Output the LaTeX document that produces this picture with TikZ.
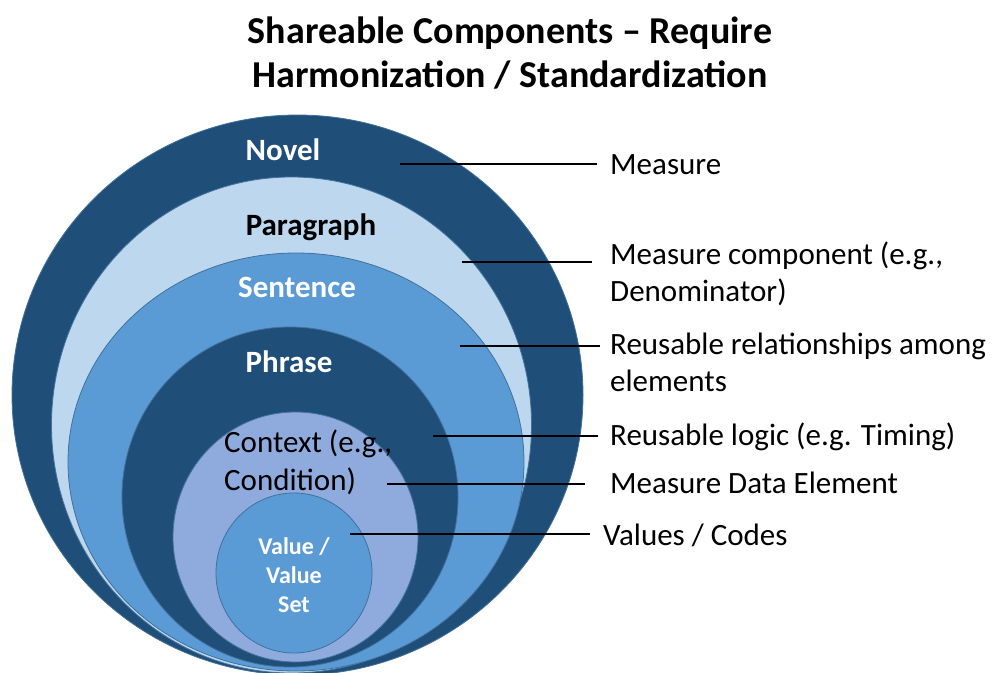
\documentclass[tikz,border=0pt]{standalone}
\usepackage{fontspec}
\setmainfont{Carlito}
\definecolor{darkband}{HTML}{1F4E79}
\definecolor{paleband}{HTML}{BDD7EE}
\definecolor{midband}{HTML}{5B9BD5}
\definecolor{lilacband}{HTML}{8FAADC}
\definecolor{rimline}{HTML}{41719C}
\tikzset{
    ring/.style={draw=rimline, line width=0.8pt},
    ringlabel/.style={font=\fontsize{31}{36}\selectfont\bfseries, text=white},
    sidelabel/.style={font=\fontsize{31}{37}\selectfont, align=left,
        anchor=west, inner sep=0pt},
    leader/.style={line width=2.8pt}
}
\begin{document}
\begin{tikzpicture}[x=1pt, y=-1pt]
    \useasboundingbox (0, 0) rectangle (995, 672);
    % title
    \node [font=\fontsize{38}{44}\selectfont\bfseries, align=center] (title)
        at (510, 53) {Shareable Components -- Require\\Harmonization / Standardization};
    % nested rings, outside in
    \filldraw [ring, fill=darkband] (297.5, 395) ellipse [x radius=285.5, y radius=280];
    \filldraw [ring, fill=paleband] (291.5, 425) ellipse [x radius=240, y radius=248];
    \filldraw [ring, fill=midband] (296, 462) ellipse [x radius=228, y radius=209];
    \filldraw [ring, fill=darkband] (290, 497) ellipse [x radius=168, y radius=170];
    \filldraw [ring, fill=lilacband] (295.5, 537) ellipse [x radius=122.5, y radius=125];
    \filldraw [ring, fill=midband] (294, 573) ellipse [x radius=78, y radius=80];
    % ring names
    \node [ringlabel] (novel) at (283, 150) {Novel};
    \node [ringlabel, text=black] (paragraph) at (311, 227) {Paragraph};
    \node [ringlabel] (sentence) at (297, 287) {Sentence};
    \node [ringlabel] (phrase) at (289, 362) {Phrase};
    \node [sidelabel, font=\fontsize{31}{38}\selectfont] (context) at (224, 462)
        {Context (e.g.,\\Condition)};
    \node [ringlabel, font=\fontsize{24}{29}\selectfont\bfseries, align=center]
        (valueset) at (294, 575) {Value /\\Value\\Set};
    % meanings on the right
    \node [sidelabel] (measure) at (610, 165) {Measure};
    \node [sidelabel] (component) at (610, 274) {Measure component (e.g.,\\Denominator)};
    \node [sidelabel] (relations) at (610, 362) {Reusable relationships among\\elements};
    \node [sidelabel] (logic) at (610, 437) {Reusable logic (e.g. Timing)};
    \node [sidelabel] (dataelem) at (610, 483) {Measure Data Element};
    \node [sidelabel] (codes) at (603, 535) {Values / Codes};
    % leader lines
    \coordinate (inNovel) at (400, 164);
    \coordinate (inParagraph) at (462, 262);
    \coordinate (inSentence) at (460, 346);
    \coordinate (inPhrase) at (433, 436);
    \coordinate (inContext) at (387, 484);
    \coordinate (inValue) at (350, 534);
    \draw [leader] (inNovel) -- ([xshift=-13pt]inNovel -| measure.west);
    \draw [leader] (inParagraph) -- ([xshift=-18pt]inParagraph -| component.west);
    \draw [leader] (inSentence) -- ([xshift=-10pt]inSentence -| relations.west);
    \draw [leader] (inPhrase) -- ([xshift=-12pt]inPhrase -| logic.west);
    \draw [leader] (inContext) -- ([xshift=-25pt]inContext -| dataelem.west);
    \draw [leader] (inValue) -- ([xshift=-13pt]inValue -| codes.west);
\end{tikzpicture}
\end{document}
